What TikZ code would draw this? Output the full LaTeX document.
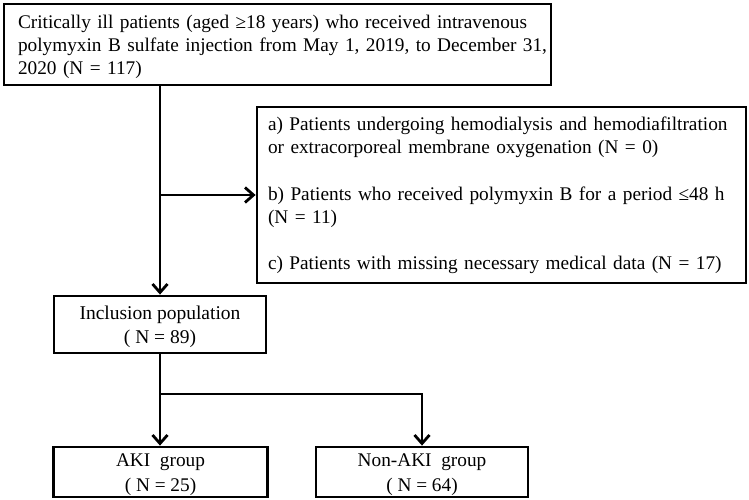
\documentclass[tikz,border=0pt]{standalone}
\usepackage{fontspec}
\setmainfont{Liberation Serif}
\usetikzlibrary{arrows.meta}
\begin{document}
\begin{tikzpicture}[x=1pt,y=-1pt,
  box/.style={draw=black, line width=2.8pt, inner sep=0pt, font=\fontsize{19.3}{23}\selectfont},
  conn/.style={line width=2.8pt},
  arr/.style={conn, -{Straight Barb[length=8.5pt,width=15pt,line width=2.8pt]}}]
\useasboundingbox (0,0) rectangle (749,500);
\node[box, minimum width=547pt, minimum height=81pt, text width=519pt, align=left] (top) at (277.5,44.5)
  {\rule{0pt}{17.3pt}\mbox{Critically ill patients (aged ≥18 years) who received intravenous}\\
   \mbox{polymyxin B sulfate injection from May 1, 2019, to December 31,}\\
   \mbox{2020 (N = 117)}};
\node[box, minimum width=489pt, minimum height=176pt, text width=467pt, align=left, font=\fontsize{19.3}{23.3}\selectfont] (excl) at (501.5,195)
  {\rule{0pt}{14.3pt}\mbox{a) Patients undergoing hemodialysis and hemodiafiltration}\\
   \mbox{or extracorporeal membrane oxygenation (N = 0)}\\[23.3pt]
   \mbox{b) Patients who received polymyxin B for a period ≤48 h}\\
   \mbox{(N = 11)}\\[23.3pt]
   \mbox{c) Patients with missing necessary medical data (N = 17)}};
\node[box, minimum width=212pt, minimum height=57pt, align=center, font=\fontsize{19.5}{24}\selectfont] (inc) at (160,324.5)
  {\rule{0pt}{17.2pt}Inclusion population\\ ( N = 89)};
\node[box, minimum width=214pt, minimum height=50pt, align=center, font=\fontsize{19.3}{25}\selectfont] (aki) at (160.5,472)
  {\rule{0pt}{19pt}AKI\ \ group\\ ( N = 25)};
\node[box, minimum width=212pt, minimum height=50pt, align=center, font=\fontsize{19.3}{25}\selectfont] (non) at (422,472)
  {\rule{0pt}{19pt}Non-AKI\ \ group\\ ( N = 64)};
\coordinate (br) at (inc.north |- excl.west);
\coordinate (sp) at (160,394);
\draw[conn] (top.south -| inc.north) -- (br);
\draw[arr] (br) -- (inc.north);
\draw[arr] (br) -- (excl.west);
\draw[conn] (inc.south) -- (sp);
\draw[arr] (sp) -- (sp |- aki.north);
\draw[arr] (sp) -| (non.north);
\end{tikzpicture}
\end{document}
